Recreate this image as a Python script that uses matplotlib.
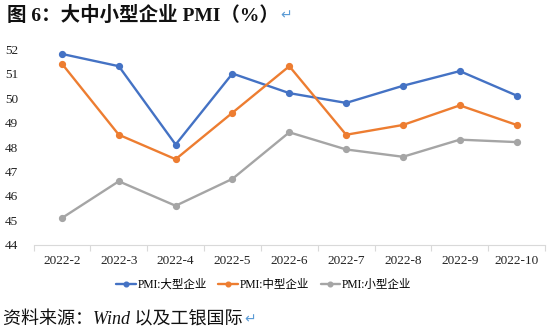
import matplotlib
matplotlib.use("Agg")
import matplotlib.pyplot as plt
from matplotlib.ticker import FixedLocator, NullFormatter

plt.rcParams['font.family'] = ['Liberation Serif', 'Noto Sans CJK SC', 'DejaVu Sans']

categories = ["2022-2", "2022-3", "2022-4", "2022-5", "2022-6", "2022-7", "2022-8", "2022-9", "2022-10"]
large = [51.8, 51.3, 48.1, 51.0, 50.2, 49.8, 50.5, 51.1, 50.1]
medium = [51.4, 48.5, 47.5, 49.4, 51.3, 48.5, 48.9, 49.7, 48.9]
small = [45.1, 46.6, 45.6, 46.7, 48.6, 47.9, 47.6, 48.3, 48.2]
series_names = ["PMI:大型企业", "PMI:中型企业", "PMI:小型企业"]
yticks = [44, 45, 46, 47, 48, 49, 50, 51, 52]

colors = ["#4472C4", "#ED7D31", "#A5A5A5"]

fig = plt.figure(figsize=(5.5, 3.36), dpi=100)
ax = fig.add_axes([0.061, 0.271, 0.930, 0.583])

x = list(range(len(categories)))
for vals, name, c in zip([large, medium, small], series_names, colors):
    ax.plot(x, vals, color=c, lw=1.7, marker='o', ms=4.2, label=name, solid_capstyle='round')

ax.set_xlim(-0.5, len(categories) - 0.5)
ax.set_ylim(44, 52)
ax.set_yticks(yticks)
ax.set_yticklabels([str(v) for v in yticks])
ax.set_xticks(x)
ax.set_xticklabels(categories)
ax.xaxis.set_minor_locator(FixedLocator([i - 0.5 for i in range(len(categories) + 1)]))
ax.xaxis.set_minor_formatter(NullFormatter())
ax.tick_params(axis='x', which='major', length=0, pad=7, labelsize=9.5, colors='#222222')
ax.tick_params(axis='x', which='minor', length=4, color='#D9D9D9', width=0.8)
ax.tick_params(axis='y', length=0, pad=11, labelsize=9.5, colors='#222222')
for s in ['top', 'right', 'left']:
    ax.spines[s].set_visible(False)
ax.spines['bottom'].set_color('#D9D9D9')
ax.spines['bottom'].set_linewidth(0.8)

leg = ax.legend(loc='upper center', bbox_to_anchor=(0.45, -0.12), ncol=3, frameon=False,
                fontsize=8.3, handlelength=1.7, handletextpad=0.15, columnspacing=1.0,
                markerscale=0.8)

t1 = fig.text(0.012, 0.955, "图 6：大中小型企业 PMI（%）", fontsize=14, fontweight='bold',
              va='center', ha='left', color='#111111')
t2 = fig.text(0.005, 0.048, "资料来源：Wind 以及工银国际", fontsize=13, style='italic',
              va='center', ha='left', color='#111111')

fig.canvas.draw()
r = fig.canvas.get_renderer()
inv = fig.transFigure.inverted()
for t in (t1, t2):
    bb = t.get_window_extent(renderer=r)
    xe = inv.transform((bb.x1, bb.y0))[0]
    y = t.get_position()[1]
    fig.text(xe + 0.003, y, "↵", fontsize=10, color='#5B9BD5', va='center', ha='left',
             family=['DejaVu Sans'])

fig.savefig("out.png", dpi=100)
